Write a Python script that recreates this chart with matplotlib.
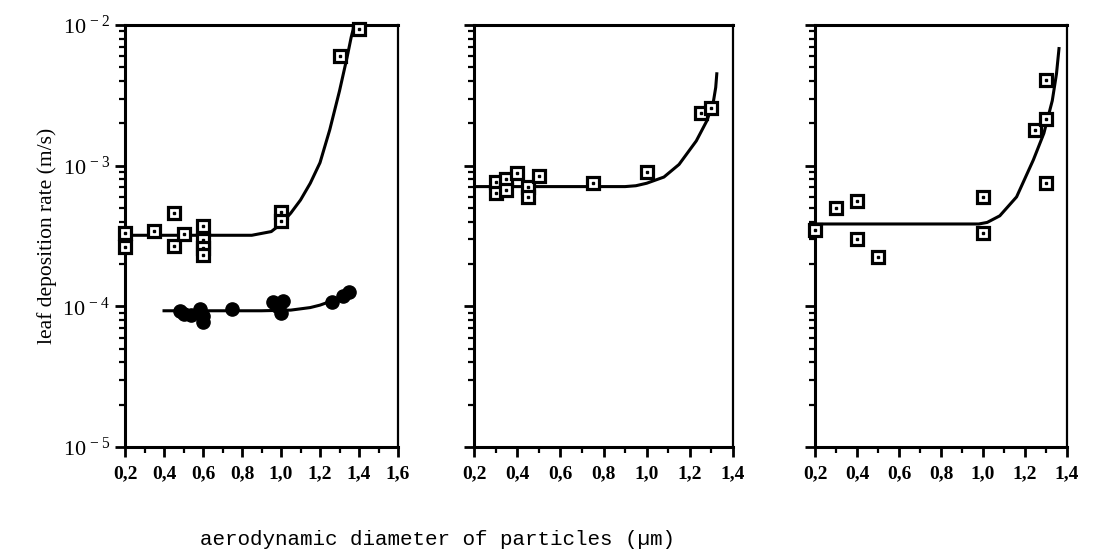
import math
import matplotlib.pyplot as plt
from matplotlib.ticker import LogLocator, MultipleLocator, FuncFormatter, NullFormatter

plt.rcParams['font.family'] = ['Liberation Serif', 'DejaVu Serif']
plt.rcParams['mathtext.fontset'] = 'custom'
plt.rcParams['mathtext.rm'] = 'Liberation Serif'
plt.rcParams['mathtext.it'] = 'Liberation Serif'

# panel 1: open squares
p1_sq_x = [0.2, 0.2, 0.35, 0.45, 0.45, 0.5, 0.6, 0.6, 0.6, 0.6, 1.0, 1.0, 1.3, 1.4]
p1_sq_y = [3.3e-4, 2.65e-4, 3.45e-4, 4.6e-4, 2.7e-4, 3.25e-4, 3.7e-4, 2.95e-4,
           2.6e-4, 2.3e-4, 4.7e-4, 4.05e-4, 6.0e-3, 9.3e-3]
p1_sq_fit_x = [0.2, 0.85, 0.95, 1.0, 1.05, 1.1, 1.15, 1.2, 1.25, 1.3, 1.34, 1.36, 1.37, 1.372]
p1_sq_fit_y = [3.2e-4, 3.2e-4, 3.4e-4, 3.85e-4, 4.6e-4, 5.7e-4, 7.5e-4, 1.05e-3,
               1.8e-3, 3.4e-3, 6.0e-3, 8.2e-3, 9.3e-3, 1.0e-2]

# panel 1: filled circles
p1_dot_x = [0.48, 0.5, 0.54, 0.585, 0.6, 0.6, 0.75, 0.96, 0.98, 1.0, 1.01, 1.26, 1.32, 1.35]
p1_dot_y = [9.3e-5, 8.8e-5, 8.7e-5, 9.6e-5, 7.8e-5, 8.6e-5, 9.6e-5, 1.07e-4,
            1.0e-4, 9.0e-5, 1.1e-4, 1.07e-4, 1.18e-4, 1.26e-4]
p1_dot_fit_x = [0.4, 0.9, 1.05, 1.15, 1.2, 1.25, 1.3, 1.35]
p1_dot_fit_y = [9.3e-5, 9.3e-5, 9.4e-5, 9.8e-5, 1.02e-4, 1.08e-4, 1.15e-4, 1.24e-4]

# panel 2
p2_sq_x = [0.3, 0.3, 0.35, 0.35, 0.4, 0.45, 0.45, 0.5, 0.75, 1.0, 1.25, 1.3]
p2_sq_y = [7.65e-4, 6.4e-4, 8.0e-4, 6.7e-4, 8.9e-4, 7.1e-4, 6.0e-4, 8.5e-4,
           7.5e-4, 9.0e-4, 2.37e-3, 2.57e-3]
p2_fit_x = [0.2, 0.9, 0.95, 1.0, 1.08, 1.15, 1.23, 1.28, 1.31, 1.32, 1.325]
p2_fit_y = [7.1e-4, 7.1e-4, 7.2e-4, 7.5e-4, 8.3e-4, 1.02e-3, 1.5e-3, 2.1e-3,
            2.9e-3, 3.6e-3, 4.5e-3]

# panel 3
p3_sq_x = [0.2, 0.3, 0.4, 0.4, 0.5, 1.0, 1.0, 1.25, 1.3, 1.3, 1.3]
p3_sq_y = [3.5e-4, 5.0e-4, 5.6e-4, 3.0e-4, 2.23e-4, 6.0e-4, 3.3e-4, 1.8e-3,
           2.15e-3, 4.07e-3, 7.5e-4]
p3_fit_x = [0.2, 0.98, 1.02, 1.08, 1.16, 1.24, 1.29, 1.33, 1.35, 1.362]
p3_fit_y = [3.85e-4, 3.85e-4, 3.95e-4, 4.4e-4, 6.0e-4, 1.1e-3, 1.7e-3, 2.9e-3,
            4.5e-3, 6.8e-3]

panels = [
    dict(rect=[0.1143, 0.1975, 0.2495, 0.7576], xmax=1.6,
         sq=(p1_sq_x, p1_sq_y), fit=(p1_sq_fit_x, p1_sq_fit_y)),
    dict(rect=[0.4333, 0.1975, 0.2367, 0.7576], xmax=1.4,
         sq=(p2_sq_x, p2_sq_y), fit=(p2_fit_x, p2_fit_y)),
    dict(rect=[0.745, 0.1975, 0.2303, 0.7576], xmax=1.4,
         sq=(p3_sq_x, p3_sq_y), fit=(p3_fit_x, p3_fit_y)),
]

fig = plt.figure(figsize=(10.94, 5.57), dpi=100)


def sci_label(v, pos):
    e = int(round(math.log10(v)))
    return r'$\mathrm{10}^{\,%d}$' % e


for i, p in enumerate(panels):
    ax = fig.add_axes(p['rect'])
    ax.set_yscale('log')
    ax.set_ylim(1e-5, 1e-2)
    ax.set_xlim(0.2, p['xmax'])

    ax.plot(p['fit'][0], p['fit'][1], color='black', lw=2.2, zorder=2)
    sx, sy = p['sq']
    ax.plot(sx, sy, ls='none', marker='s', ms=8.5, mfc='white', mec='black', mew=2.3,
            zorder=3, clip_on=False)
    ax.plot(sx, sy, ls='none', marker='s', ms=2, mfc='black', mec='black', zorder=4,
            clip_on=False)

    if i == 0:
        ax.plot(p1_dot_fit_x, p1_dot_fit_y, color='black', lw=2.2, zorder=2)
        ax.plot(p1_dot_x, p1_dot_y, ls='none', marker='o', ms=9.5, color='black', zorder=3)

    ax.xaxis.set_major_locator(MultipleLocator(0.2))
    ax.xaxis.set_minor_locator(MultipleLocator(0.1))
    ax.xaxis.set_major_formatter(FuncFormatter(lambda v, pos: ('%.1f' % v).replace('.', ',')))
    ax.yaxis.set_major_locator(LogLocator(base=10, numticks=10))
    ax.yaxis.set_minor_locator(LogLocator(base=10, subs=range(2, 10), numticks=10))
    ax.yaxis.set_minor_formatter(NullFormatter())
    if i == 0:
        ax.yaxis.set_major_formatter(FuncFormatter(sci_label))
    else:
        ax.yaxis.set_major_formatter(NullFormatter())

    ax.tick_params(axis='x', which='major', direction='out', length=7, width=2,
                   labelsize=14, pad=6)
    ax.tick_params(axis='y', which='major', direction='out', length=7, width=2,
                   labelsize=16, pad=4)
    ax.tick_params(axis='both', which='minor', direction='out', length=4, width=1.6)
    for lab in ax.get_xticklabels():
        lab.set_fontweight('bold')
    for side in ['left', 'bottom', 'top']:
        ax.spines[side].set_linewidth(2.2)
    ax.spines['right'].set_linewidth(1.6)

    if i == 0:
        ax.set_ylabel('leaf deposition rate (m/s)', fontsize=15.5, labelpad=4)

fig.text(0.40, 0.032, 'aerodynamic diameter of particles (\u00b5m)',
         family=['Liberation Mono', 'DejaVu Sans Mono'], fontsize=15,
         ha='center', va='center')

fig.savefig('out.png', dpi=100)
